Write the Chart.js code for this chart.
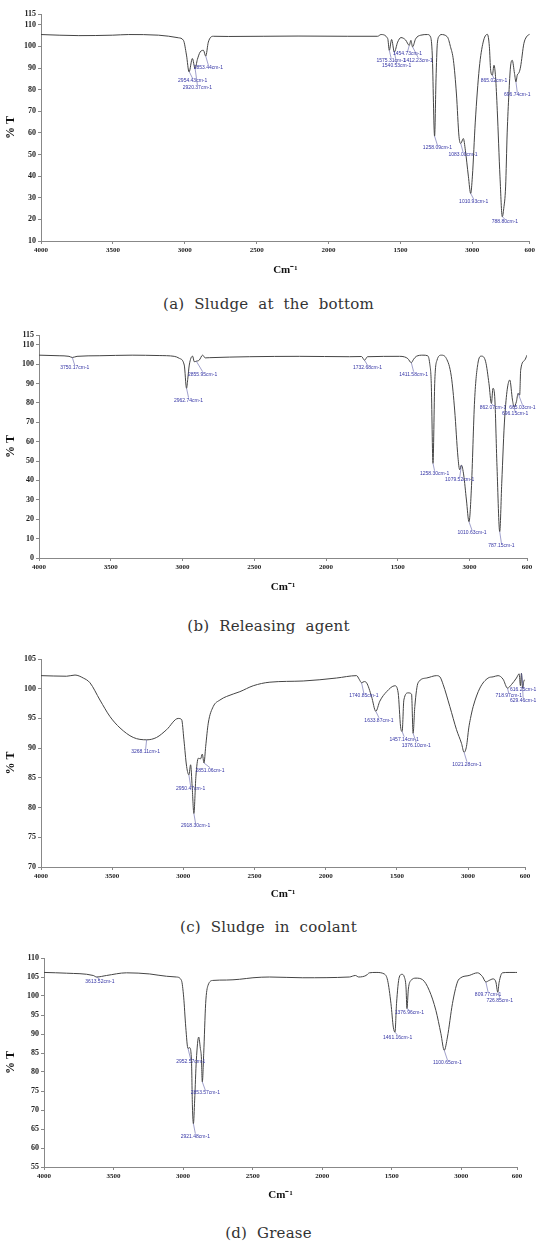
<!DOCTYPE html>
<html>
<head>
<meta charset="utf-8">
<script src="https://cdn.jsdelivr.net/npm/chart.js@4.4.1/dist/chart.umd.min.js"></script>
<style>
  body { margin: 0; background: #fff; }
  #page { position: relative; width: 537px; height: 1244px; overflow: hidden; }
  canvas { position: absolute; left: 0; }
  .caption {
    position: absolute; left: 0; width: 537px; text-align: center;
    font-family: "DejaVu Serif", serif; font-size: 15px; line-height: 16px;
    color: #333; word-spacing: 5px; letter-spacing: 0.2px;
  }
</style>
</head>
<body>
<div id="page">
  <canvas id="chartA" width="537" height="281" style="top:0px"></canvas>
  <div class="caption" style="top:296px">(a) Sludge at the bottom</div>
  <canvas id="chartB" width="537" height="278" style="top:320px"></canvas>
  <div class="caption" style="top:618px">(b) Releasing agent</div>
  <canvas id="chartC" width="537" height="260" style="top:645px"></canvas>
  <div class="caption" style="top:919px">(c) Sludge in coolant</div>
  <canvas id="chartD" width="537" height="262" style="top:944px"></canvas>
  <div class="caption" style="top:1225px">(d) Grease</div>
</div>
<script>
// wavenumber axis, shared by all four spectra
const xTickValues = [4000, 3500, 3000, 2500, 2000, 1500, 1000, 600];
const xTickLabels = ["4000", "3500", "3000", "2500", "2000", "1500", "3000", "600"];

// (a) Sludge at the bottom
const aWave = [4000, 3737, 3501, 3390, 3182, 3044, 3009, 2988, 2970, 2947, 2928, 2912, 2893, 2870, 2854, 2836, 2801, 2697, 2212, 1866,
  1658, 1635, 1588, 1577, 1561, 1542, 1519, 1496, 1464, 1438, 1427, 1415, 1394, 1358, 1311, 1290, 1278, 1262, 1252, 1243,
  1228, 1219, 1173, 1152, 1131, 1110, 1092, 1080, 1062, 1048, 1027, 1011, 999, 979, 951, 924, 895, 881, 872, 860,
  849, 838, 826, 807, 791, 781, 768, 757, 745, 734, 722, 706, 696, 687, 674, 664, 641, 623, 604, 600];
const aT = [105.5, 105.0, 105.2, 105.5, 105.2, 104.0, 102.8, 96, 88.2, 94.4, 89.8, 94, 97.4, 98.2, 95.5, 102, 104.7, 104.6, 104.8, 104.7,
  104.7, 105.5, 103.6, 98.2, 103.2, 97.4, 102, 104.1, 103, 100.5, 102.8, 99.8, 103.5, 105.2, 105.5, 104.4, 96, 58.5, 85, 101.3,
  104.9, 105.5, 104.4, 100, 93.6, 78, 58.2, 55.1, 57.4, 52, 40, 32, 40, 65, 90, 102, 105.6, 100, 89, 86.7,
  91.3, 86, 70.5, 39.7, 21.2, 25, 35, 60, 78.2, 90.5, 93.6, 87.5, 83.6, 86.7, 88, 90.5, 101.3, 104.4, 105.5, 105.6];
const aYTicks = [10, 20, 30, 40, 50, 60, 70, 80, 90, 100, 110, 115];
const aPeakText = ["2954.43cm-1", "2920.37cm-1", "2853.44cm-1", "1575.31cm-1", "1540.53cm-1", "1454.73cm-1", "1412.23cm-1",
  "1258.09cm-1", "1083.00cm-1", "1010.93cm-1", "865.02cm-1", "788.80cm-1", "696.74cm-1"];
const aPeakAt = [[2968, 88.2], [2928, 89.8], [2854, 95.5], [1577, 98.2], [1542, 97.4], [1438, 100.5], [1415, 99.8],
  [1262, 58.5], [1080, 55.1], [1011, 32], [860, 86.7], [791, 21.2], [696, 83.6]];
const aTextAt = [[2945, 84], [2912, 81], [2836, 90.2], [1565, 93.6], [1526, 91], [1450, 96.5], [1376, 93.6],
  [1242, 53.1], [1064, 50], [990, 28.2], [849, 84], [773, 19], [687, 77.7]];

// (b) Releasing agent
const bWave = [4000, 3860, 3791, 3768, 3735, 3581, 3351, 3163, 3058, 3023, 2988, 2972, 2964, 2953, 2930, 2918, 2904, 2884, 2860, 2842,
  2814, 2535, 2186, 1837, 1753, 1732, 1711, 1488, 1453, 1430, 1406, 1390, 1371, 1325, 1292, 1278, 1267, 1255, 1243, 1227,
  1197, 1162, 1127, 1104, 1081, 1069, 1057, 1041, 1022, 1004, 988, 965, 942, 918, 888, 865, 848, 837, 825, 809,
  790, 776, 755, 720, 701, 690, 674, 662, 651, 644, 616, 600];
const bT = [104.6, 104.3, 104, 103.4, 104, 104.3, 104.6, 104.4, 104, 103, 99.5, 87.5, 92, 99.5, 104.1, 101.2, 101.5, 102, 104.6, 103.2,
  103.3, 103.8, 104, 103.8, 103.9, 102, 103.8, 104, 103.7, 102.8, 100.7, 102.5, 104, 104.6, 104.3, 100.4, 90, 48.8, 90, 102,
  104.6, 102.9, 93.5, 76.3, 52, 45.5, 47.9, 42.8, 29.9, 18.7, 35, 81.4, 100.4, 104.1, 101.2, 90, 79.7, 87.5, 83.2, 47.1,
  13.6, 38.5, 72.8, 91.8, 81.4, 78, 80.6, 84.9, 84, 96.9, 102, 104.6];
const bYTicks = [0, 10, 20, 30, 40, 50, 60, 70, 80, 90, 100, 110, 115];
const bPeakText = ["3750.17cm-1", "2962.74cm-1", "2855.95cm-1", "1732.68cm-1", "1411.58cm-1", "1258.30cm-1", "1079.52cm-1",
  "1010.63cm-1", "862.07cm-1", "665.03cm-1", "696.15cm-1", "787.15cm-1"];
const bPeakAt = [[3768, 103.4], [2972, 87.5], [2904, 101.5], [1732, 102], [1406, 100.7], [1255, 48.8], [1057, 47.9],
  [1004, 18.7], [848, 79.7], [662, 84.9], [690, 78], [790, 13.6]];
const bTextAt = [[3751, 98.1], [2958, 81.4], [2860, 94.8], [1711, 98.1], [1390, 94.8], [1244, 43.7], [1069, 40.2],
  [983, 13], [837, 77.7], [632, 77.7], [683, 74.2], [778, 6.2]];

// (c) Sludge in coolant
const cWave = [4000, 3820, 3761, 3703, 3656, 3586, 3515, 3445, 3352, 3258, 3188, 3118, 3036, 3012, 2996, 2977, 2961, 2949, 2938, 2926,
  2912, 2895, 2879, 2867, 2855, 2843, 2825, 2790, 2743, 2696, 2603, 2509, 2392, 2158, 1924, 1783, 1765, 1748, 1730, 1713,
  1678, 1648, 1620, 1572, 1514, 1491, 1474, 1463, 1451, 1421, 1397, 1386, 1374, 1351, 1292, 1221, 1198, 1175, 1128, 1081,
  1046, 1028, 1011, 995, 983, 964, 917, 859, 824, 789, 754, 723, 695, 660, 641, 632, 625, 617, 608, 600];
const cT = [102.2, 102.1, 102.3, 101.8, 101, 98.1, 95.3, 93.4, 91.8, 91.4, 91.8, 93.1, 95, 94.8, 91.4, 86.9, 85.5, 87.2, 83.5, 79,
  85.2, 88.3, 88.2, 89, 87.5, 90.3, 94.2, 97, 98.1, 98.7, 99.5, 100.5, 101.1, 101.3, 101.8, 102.2, 101.6, 101, 101.2, 101,
  98.7, 96.2, 97.9, 99.5, 100.5, 99.3, 93.6, 92.8, 98.1, 99.3, 99.1, 92.5, 97, 101, 101.8, 102.2, 102, 100.7, 97, 93.1,
  90.8, 89.3, 90.3, 93.4, 95, 97, 100.1, 101.8, 102, 102.2, 101.6, 100.1, 100.7, 101.8, 102.5, 100.5, 102.6, 100.1, 101.3, 101.5];
const cYTicks = [70, 75, 80, 85, 90, 95, 100, 105];
const cPeakText = ["3268.11cm-1", "2950.47cm-1", "2918.30cm-1", "2851.06cm-1", "1740.85cm-1", "1633.87cm-1", "1457.14cm-1",
  "1376.10cm-1", "1021.28cm-1", "718.97cm-1", "616.25cm-1", "629.46cm-1"];
const cPeakAt = [[3258, 91.4], [2961, 85.5], [2926, 79], [2855, 87.5], [1748, 101], [1648, 96.2], [1463, 92.8],
  [1386, 92.5], [1028, 89.3], [723, 100.1], [625, 102.6], [617, 100.1]];
const cTextAt = [[3265, 89.4], [2949, 83.2], [2914, 76.9], [2813, 86.3], [1732, 98.8], [1626, 94.7], [1449, 91.5],
  [1364, 90.5], [1008, 87.3], [714, 98.8], [613, 99.9], [613, 98]];

// (d) Grease
const dWave = [4000, 3837, 3646, 3622, 3550, 3407, 3240, 3120, 3048, 3012, 2996, 2981, 2965, 2953, 2940, 2933, 2926, 2917, 2905, 2888,
  2876, 2869, 2862, 2852, 2838, 2821, 2785, 2689, 2594, 2498, 2379, 2140, 1805, 1762, 1738, 1685, 1661, 1613, 1554, 1530,
  1506, 1489, 1477, 1466, 1446, 1427, 1410, 1398, 1391, 1381, 1362, 1326, 1279, 1231, 1183, 1147, 1123, 1100, 1064, 1028,
  1004, 944, 884, 848, 824, 800, 772, 752, 738, 729, 705, 657, 609, 600];
const dT = [106.2, 106, 105.4, 105, 105.4, 106.1, 105.8, 105.2, 105, 104.1, 99.7, 91.8, 86.2, 86.4, 83.1, 70.8, 66.4, 72.6, 83.1, 89.2,
  86.2, 84, 77.4, 84.8, 98, 102.8, 104.1, 104.2, 104.4, 104.8, 105, 104.8, 105, 105.4, 105, 105.4, 106.1, 106.2, 105.8, 104.1,
  98, 91.8, 90.5, 98, 105, 105.7, 105, 102.4, 96.7, 101.8, 104.1, 104.7, 104.3, 101.5, 96.2, 90.1, 85.7, 89.2, 98, 103.7,
  104.8, 105.4, 106.1, 105.1, 103.7, 104.1, 104.5, 103.7, 101, 103.5, 106.1, 106.2, 106.2, 106.2];
const dYTicks = [55, 60, 65, 70, 75, 80, 85, 90, 95, 100, 105, 110];
const dPeakText = ["3613.52cm-1", "2952.57cm-1", "2853.57cm-1", "2921.48cm-1", "1376.96cm-1", "1461.16cm-1", "1100.65cm-1",
  "809.77cm-1", "726.85cm-1"];
const dPeakAt = [[3622, 105], [2965, 86.2], [2862, 77.4], [2926, 66.4], [1391, 96.7], [1477, 90.5], [1123, 85.7],
  [824, 103.7], [738, 101]];
const dTextAt = [[3598, 103.7], [2945, 82.6], [2840, 74.5], [2912, 63.1], [1374, 95.6], [1458, 89], [1100, 82.5],
  [808, 100.4], [724, 98.9]];

const axisFont = { family: "'Liberation Serif', serif", weight: "bold" };

// small blue peak labels with leader lines
function peakLabelPlugin(texts, peaks, spots) {
  return {
    id: "peakLabels",
    afterDatasetsDraw(chart) {
      const { ctx, scales } = chart;
      ctx.save();
      ctx.font = "5px 'Liberation Sans', sans-serif";
      ctx.textAlign = "center";
      ctx.textBaseline = "middle";
      ctx.strokeStyle = "#6060a8";
      ctx.fillStyle = "#3535a5";
      ctx.lineWidth = 0.6;
      texts.forEach((text, i) => {
        const px = scales.x.getPixelForValue(peaks[i][0]);
        const py = scales.y.getPixelForValue(peaks[i][1]);
        const tx = scales.x.getPixelForValue(spots[i][0]);
        const ty = scales.y.getPixelForValue(spots[i][1]);
        ctx.beginPath();
        ctx.moveTo(px, py);
        ctx.lineTo(tx, ty - 2.5);
        ctx.stroke();
        ctx.fillText(text, tx, ty);
      });
      ctx.restore();
    },
  };
}

function createSpectrum(canvasId, wave, trans, yMin, yMax, yTicks, box, labels) {
  const ctx = document.getElementById(canvasId);
  if (!ctx) {
    console.error(`Element with id ${canvasId} not found`);
    return null;
  }
  return new Chart(ctx, {
    type: "line",
    data: {
      datasets: [
        {
          data: wave.map((w, i) => ({ x: w, y: trans[i] })),
          borderColor: "#444",
          borderWidth: 1,
          pointRadius: 0,
          fill: false,
          cubicInterpolationMode: "monotone",
        },
      ],
    },
    options: {
      responsive: false,
      animation: false,
      devicePixelRatio: 1,
      layout: { padding: { top: box.top, right: box.right, left: 0, bottom: 0 } },
      plugins: { legend: { display: false }, tooltip: { enabled: false } },
      scales: {
        x: {
          type: "linear",
          reverse: true,
          min: 600,
          max: 4000,
          afterBuildTicks: (scale) => {
            scale.ticks = xTickValues.map((v) => ({ value: v }));
          },
          afterFit: (scale) => {
            scale.height = box.xHeight;
          },
          ticks: {
            autoSkip: false,
            maxRotation: 0,
            padding: 2,
            color: "#222",
            font: { ...axisFont, size: 7 },
            callback: (value) => xTickLabels[xTickValues.indexOf(value)],
          },
          grid: { drawOnChartArea: false, tickLength: 3, color: "#888" },
          border: { color: "#888" },
          title: {
            display: true,
            text: "Cm⁻¹",
            color: "#111",
            font: { ...axisFont, size: 11 },
            padding: { top: 0, bottom: 4 },
          },
        },
        y: {
          min: yMin,
          max: yMax,
          afterBuildTicks: (scale) => {
            scale.ticks = yTicks.map((v) => ({ value: v }));
          },
          afterFit: (scale) => {
            scale.width = box.yWidth;
          },
          ticks: {
            padding: 2,
            color: "#222",
            font: { ...axisFont, size: 8 },
          },
          grid: { drawOnChartArea: false, tickLength: 3, color: "#888" },
          border: { color: "#888" },
          title: {
            display: true,
            text: "% T",
            color: "#111",
            font: { ...axisFont, size: 12 },
            padding: { top: 4, bottom: 0 },
          },
        },
      },
    },
    plugins: [peakLabelPlugin(labels.text, labels.peaks, labels.spots)],
  });
}

document.addEventListener("DOMContentLoaded", () => {
  createSpectrum("chartA", aWave, aT, 10, 115, aYTicks,
    { top: 14, right: 4, yWidth: 41, xHeight: 40 },
    { text: aPeakText, peaks: aPeakAt, spots: aTextAt });
  createSpectrum("chartB", bWave, bT, 0, 115, bYTicks,
    { top: 15, right: 10, yWidth: 39, xHeight: 40 },
    { text: bPeakText, peaks: bPeakAt, spots: bTextAt });
  createSpectrum("chartC", cWave, cT, 70, 105, cYTicks,
    { top: 14, right: 12, yWidth: 41, xHeight: 38 },
    { text: cPeakText, peaks: cPeakAt, spots: cTextAt });
  createSpectrum("chartD", dWave, dT, 55, 110, dYTicks,
    { top: 14, right: 20, yWidth: 44, xHeight: 39 },
    { text: dPeakText, peaks: dPeakAt, spots: dTextAt });
});
</script>
</body>
</html>
